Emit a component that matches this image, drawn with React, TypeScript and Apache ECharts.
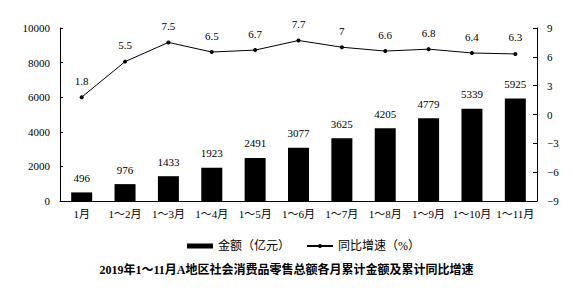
import React, { useEffect, useRef } from "react";
import * as echarts from "echarts";

const categories = ["1月", "1～2月", "1～3月", "1～4月", "1～5月", "1～6月", "1～7月", "1～8月", "1～9月", "1～10月", "1～11月"];
const amountValues = [496, 976, 1433, 1923, 2491, 3077, 3625, 4205, 4779, 5339, 5925];
const growthValues = [1.8, 5.5, 7.5, 6.5, 6.7, 7.7, 7, 6.6, 6.8, 6.4, 6.3];
const amountName = "金额（亿元）";
const growthName = "同比增速（%）";
const titleText = "2019年1～11月A地区社会消费品零售总额各月累计金额及累计同比增速";

const FONT = "'Liberation Serif', 'Times New Roman', 'Noto Sans CJK SC', serif";

export default function App() {
  const ref = useRef<HTMLDivElement>(null);
  useEffect(() => {
    if (!ref.current) return;
    const chart = echarts.init(ref.current, null, { renderer: "svg" });
    chart.setOption({
      animation: false,
      backgroundColor: "#fff",
      textStyle: { fontFamily: FONT, color: "#000" },
      title: {
        text: titleText,
        left: "center",
        top: 259,
        textStyle: { fontFamily: FONT, fontSize: 12, fontWeight: "bold", color: "#000" },
      },
      legend: {
        left: 182,
        top: 235,
        itemWidth: 26,
        itemHeight: 5,
        itemGap: 16,
        textStyle: { fontFamily: FONT, fontSize: 12, color: "#000" },
        data: [
          { name: amountName, icon: "rect" },
          { name: growthName },
        ],
      },
      grid: { left: 60, right: 36, top: 28, bottom: 90 },
      xAxis: {
        type: "category",
        data: categories,
        axisLine: { lineStyle: { color: "#000", width: 1 } },
        axisTick: { show: false },
        axisLabel: { color: "#000", fontSize: 11, fontFamily: FONT, margin: 7, interval: 0 },
      },
      yAxis: [
        {
          type: "value",
          min: 0,
          max: 10000,
          interval: 2000,
          splitLine: { show: false },
          axisLine: { show: true, lineStyle: { color: "#000" } },
          axisTick: { show: true, inside: true, length: 3, lineStyle: { color: "#000" } },
          axisLabel: {
            color: "#000",
            fontSize: 11,
            fontFamily: FONT,
            margin: 10,
            formatter: (v: number) => String(v),
          },
        },
        {
          type: "value",
          min: -9,
          max: 9,
          interval: 3,
          splitLine: { show: false },
          axisLine: { show: true, lineStyle: { color: "#000" } },
          axisTick: { show: true, inside: true, length: 4, lineStyle: { color: "#000" } },
          axisLabel: {
            color: "#000",
            fontSize: 11,
            fontFamily: FONT,
            margin: 10,
            formatter: (v: number) => String(v).replace("-", "−"),
          },
        },
      ],
      series: [
        {
          name: amountName,
          type: "bar",
          data: amountValues,
          barWidth: 21,
          itemStyle: { color: "#000" },
          label: { show: true, position: "top", distance: 9, color: "#000", fontSize: 11, fontFamily: FONT },
        },
        {
          name: growthName,
          type: "line",
          yAxisIndex: 1,
          data: growthValues,
          symbol: "circle",
          symbolSize: 4,
          lineStyle: { color: "#000", width: 1 },
          itemStyle: { color: "#000" },
          label: { show: true, position: "top", distance: 9, color: "#000", fontSize: 11, fontFamily: FONT },
        },
      ],
    });
    return () => chart.dispose();
  }, []);
  return <div ref={ref} style={{ position: "fixed", left: 0, top: 0, width: 573, height: 291 }} />;
}
